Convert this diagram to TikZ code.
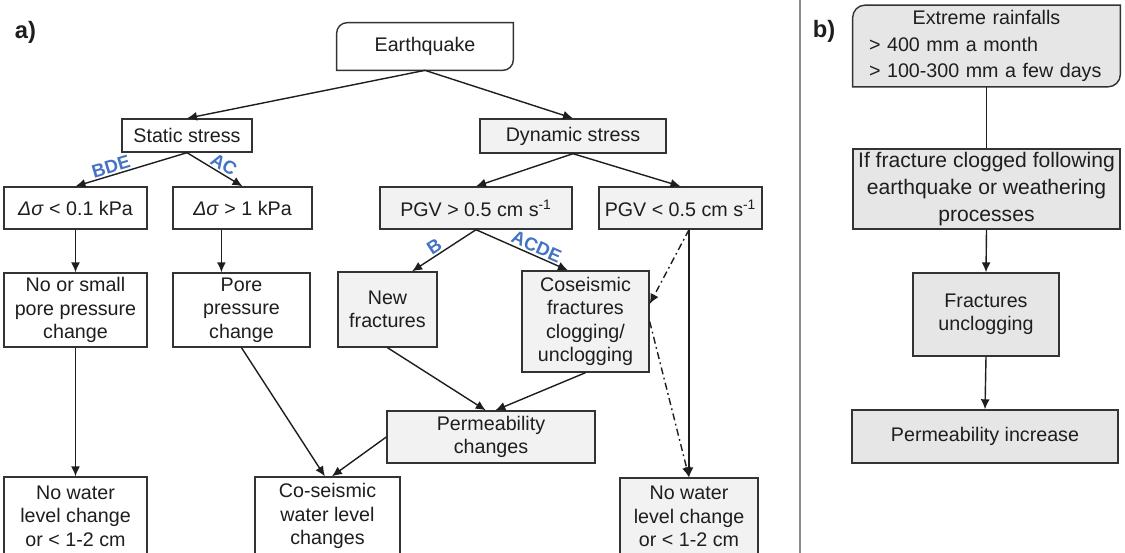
\documentclass[tikz,border=0pt]{standalone}
\usepackage{fontspec}
\setmainfont{Liberation Sans}
\usetikzlibrary{arrows.meta,positioning,backgrounds}
\definecolor{boxLine}{HTML}{333333}
\definecolor{txtDark}{HTML}{1E1E1E}
\definecolor{aFill}{HTML}{F2F2F2}
\definecolor{bFill}{HTML}{E6E6E6}
\definecolor{tagBlue}{HTML}{4472C4}
\definecolor{sepGray}{HTML}{8C8C8C}
\newcommand{\boxfont}{\fontsize{11.2}{13.4}\selectfont}
\newcommand{\rainfont}{\fontsize{11.2}{15.1}\selectfont}
\newcommand{\bigboxfont}{\fontsize{12}{15.3}\selectfont}
\newcommand{\tagfont}{\fontsize{10.5}{12}\selectfont\bfseries}
\newcommand{\panelfont}{\fontsize{13.5}{16}\selectfont\bfseries}

\begin{document}
\begin{tikzpicture}[x=0.02cm, y=-0.02cm,
          box/.style={rectangle, draw=boxLine, line width=0.8pt, fill=white, text=txtDark, inner sep=1pt, align=center, font=\boxfont},
          grey/.style={box, fill=aFill},
          dark/.style={box, fill=bFill},
          bare/.style={text=txtDark, inner sep=0pt},
          frame/.style={draw=boxLine, line width=0.8pt},
          flow/.style={-{Latex[length=2mm, width=1.8mm]}, line width=0.8pt, draw=txtDark},
          dashflow/.style={flow, dash pattern=on 4pt off 2pt on 1pt off 2pt},
          tag/.style={font=\tagfont, text=tagBlue, above, sloped, inner sep=1pt},
          panel/.style={font=\panelfont, text=txtDark}
        ]
          \useasboundingbox (0,0) rectangle (1125,553);
          \clip (0,0) rectangle (1125,553);
          \node[panel] (pa) at (25.5,32) {a)};
          \node[panel] (pb) at (824,31) {b)};
          \coordinate (septop) at (800,0);
          \coordinate (sepbot) at (800,553);
          \draw[sepGray, line width=0.8pt] (septop) -- (sepbot);

          \node[bare, font=\boxfont, minimum width=3.52cm, minimum height=0.94cm] (quake) at (425,46.5) {Earthquake};
          \begin{scope}[on background layer]
            \draw[frame, fill=white] ([yshift=-6pt]quake.north west) arc[start angle=180, end angle=90, radius=6pt] -- (quake.north east) -- ([yshift=6pt]quake.south east) arc[start angle=0, end angle=-90, radius=6pt] -- (quake.south west) -- cycle;
          \end{scope}
          \node[box, minimum width=2.6cm, minimum height=0.66cm] (static) at (187,135.5) {Static stress};
          \node[grey, minimum width=3.72cm, minimum height=0.68cm] (dynamic) at (573,136) {Dynamic stress};
          \node[box, minimum width=2.86cm, minimum height=0.84cm] (dsl) at (75.5,208) {\textit{Δσ} < 0.1 kPa};
          \node[box, minimum width=2.78cm, minimum height=0.84cm] (dsh) at (242.5,208) {\textit{Δσ} > 1 kPa};
          \node[grey, minimum width=3.84cm, minimum height=0.84cm] (pgvh) at (476,208) {PGV > 0.5 cm s\textsuperscript{-1}};
          \node[grey, minimum width=3.26cm, minimum height=0.84cm] (pgvl) at (680.5,208) {PGV < 0.5 cm s\textsuperscript{-1}};
          \node[box, minimum width=2.86cm, minimum height=1.48cm] (noor) at (75.5,310) {No or small\\pore pressure\\change};
          \node[box, minimum width=2.74cm, minimum height=1.48cm] (pore) at (241.5,310) {Pore\\pressure\\change};
          \node[grey, minimum width=1.98cm, minimum height=1.5cm] (newfr) at (387.5,309.5) {New\\fractures};
          \node[grey, minimum width=2.54cm, minimum height=2.02cm] (cofr) at (585.5,321.5) {Coseismic\\fractures\\clogging/\\unclogging};
          \node[grey, minimum width=4.16cm, minimum height=1.04cm] (perm) at (491,437) {Permeability\\changes};
          \node[box, minimum width=2.86cm, minimum height=1.56cm] (nowll) at (75.5,516) {No water\\level change\\or < 1-2 cm};
          \node[box, minimum width=2.9cm, minimum height=1.56cm] (cowl) at (327.5,516) {Co-seismic\\water level\\changes};
          \node[grey, minimum width=2.76cm, minimum height=1.54cm] (nowlr) at (689,516.5) {No water\\level change\\or < 1-2 cm};

          \draw[flow] (quake.south) -- (static.north);
          \draw[flow] (quake.south) -- (dynamic.north);
          \draw[flow] (static.south) -- node[tag, pos=0.66] {BDE} (dsl.north);
          \draw[flow] (static.south) -- node[tag, pos=0.58] {AC} (dsh.north);
          \draw[flow] (dynamic.south) -- (pgvh.north);
          \draw[flow] (dynamic.south) -- (pgvl.north);
          \draw[flow] (dsl.south) -- (noor.north);
          \draw[flow] ([xshift=-12pt]dsh.south) -- ([xshift=-12pt]dsh.south |- pore.north);
          \draw[flow] (pgvh.south) -- node[tag, pos=0.58] {B} ([xshift=14pt]newfr.north);
          \draw[flow] (pgvh.south) -- node[tag, pos=0.62] {ACDE} ([xshift=-10pt]cofr.north);
          \draw[flow] (pgvl.south -| nowlr.north) -- (nowlr.north);
          \draw[dashflow] (pgvl.south -| nowlr.north) -- ([yshift=10pt]cofr.east);
          \draw[dashflow] (cofr.east) -- (nowlr.north);
          \draw[flow] (newfr.south) -- ([xshift=-3pt]perm.north);
          \draw[flow] (cofr.south) -- ([xshift=2.5pt]perm.north);
          \draw[flow] (pore.south) -- ([xshift=-1.5pt]cowl.north);
          \draw[flow] (perm.west) -- ([xshift=2.5pt]cowl.north);
          \draw[flow] (noor.south) -- (nowll.north);

          \node[bare, font=\rainfont, minimum width=5.34cm, minimum height=1.62cm, text width=4.7cm, align=left] (rain) at (986.5,46) {\makebox[4.7cm][c]{Extreme rainfalls}\\> 400 mm a month\\> 100-300 mm a few days};
          \begin{scope}[on background layer]
            \draw[frame, fill=bFill] ([yshift=-7pt]rain.north west) arc[start angle=180, end angle=90, radius=7pt] -- (rain.north east) -- ([yshift=7pt]rain.south east) arc[start angle=0, end angle=-90, radius=7pt] -- (rain.south west) -- cycle;
          \end{scope}
          \node[dark, font=\bigboxfont, minimum width=5.34cm, minimum height=1.6cm] (iffr) at (986.5,189) {If fracture clogged following\\earthquake or weathering\\processes};
          \node[dark, minimum width=2.92cm, minimum height=1.66cm] (unclog) at (986,314.5) {Fractures\\unclogging};
          \node[dark, minimum width=5.32cm, minimum height=1.06cm] (perminc) at (985,436.5) {Permeability increase};
          \draw[line width=0.8pt, draw=txtDark] (rain.south) -- (iffr.north);
          \draw[flow] (iffr.south) -- (unclog.north);
          \draw[flow] (unclog.south) -- (perminc.north);
        \end{tikzpicture}
\end{document}
